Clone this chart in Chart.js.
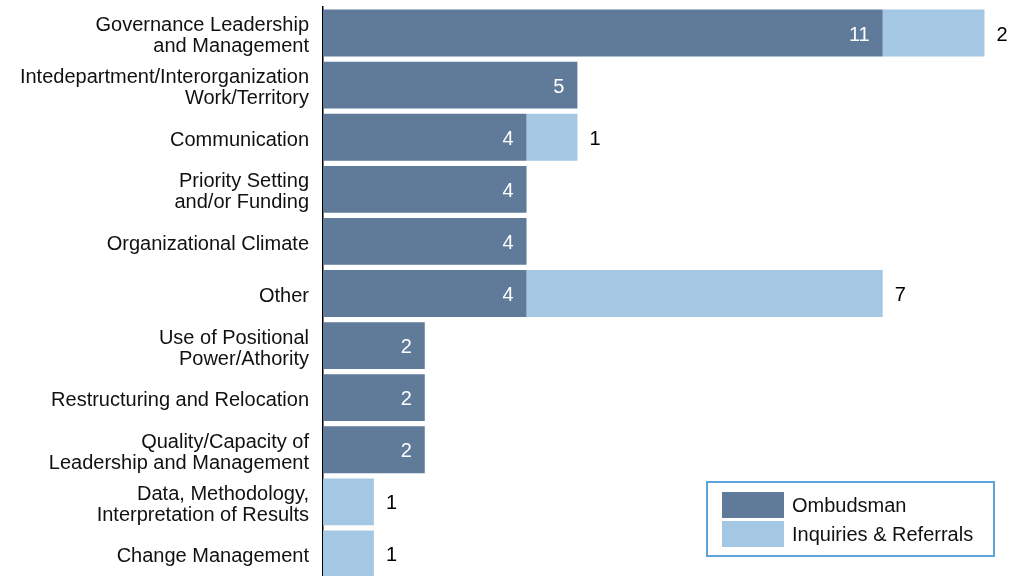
<!DOCTYPE html>
<html>
<head>
<meta charset="utf-8">
<script src="https://cdn.jsdelivr.net/npm/chart.js@4"></script>
<style>
  html, body { margin: 0; padding: 0; background: #fff; overflow: hidden; }
  #wrap { position: relative; width: 1015px; height: 580px; }
</style>
</head>
<body>
<div id="wrap"><canvas id="chart"></canvas></div>
<script>
// categories, top to bottom
const categories = [
    ['Governance Leadership', 'and Management'],
    ['Intedepartment/Interorganization', 'Work/Territory'],
    'Communication',
    ['Priority Setting', 'and/or Funding'],
    'Organizational Climate',
    'Other',
    ['Use of Positional', 'Power/Athority'],
    'Restructuring and Relocation',
    ['Quality/Capacity of', 'Leadership and Management'],
    ['Data, Methodology,', 'Interpretation of Results'],
    'Change Management'
];
const ombudsman = [11, 5, 4, 4, 4, 4, 2, 2, 2, 0, 0];
const inquiries = [2, 0, 1, 0, 0, 7, 0, 0, 0, 1, 1];
const seriesNames = ['Ombudsman', 'Inquiries & Referrals'];

const darkBlue = '#607a9a';
const lightBlue = '#a4c8e4';
const fontFamily = '"Liberation Sans", Arimo, Helvetica, Arial, sans-serif';

// nudge the category labels down a few px so they sit centred on the bars
const labelNudge = {
    id: 'labelNudge',
    beforeDraw(chart) {
        const yScale = chart.scales.y;
        if (yScale._nudged) return;
        const orig = yScale.drawLabels;
        yScale.drawLabels = function(area) {
            this.ctx.save();
            this.ctx.translate(0, 3);
            orig.call(this, area);
            this.ctx.restore();
        };
        yScale._nudged = true;
    }
};

// value labels: white inside the dark bar, black after the light bar
const valueLabels = {
    id: 'valueLabels',
    afterDatasetsDraw(chart) {
        const ctx = chart.ctx;
        ctx.save();
        ctx.font = '20px ' + fontFamily;
        ctx.textBaseline = 'middle';
        chart.getDatasetMeta(0).data.forEach(function(bar, i) {
            if (!ombudsman[i]) return;
            ctx.fillStyle = '#ffffff';
            ctx.textAlign = 'right';
            ctx.fillText(ombudsman[i], bar.x - 13, bar.y + 2);
        });
        chart.getDatasetMeta(1).data.forEach(function(bar, i) {
            if (!inquiries[i]) return;
            ctx.fillStyle = '#000000';
            ctx.textAlign = 'left';
            ctx.fillText(inquiries[i], bar.x + 12, bar.y + 2);
        });
        ctx.restore();
    }
};

// boxed legend in the lower right
const boxLegend = {
    id: 'boxLegend',
    afterDraw(chart) {
        const ctx = chart.ctx;
        const colors = [darkBlue, lightBlue];
        ctx.save();
        ctx.strokeStyle = '#5ba3d9';
        ctx.lineWidth = 2;
        ctx.strokeRect(707, 482, 287, 74);
        ctx.font = '20px ' + fontFamily;
        ctx.textBaseline = 'middle';
        ctx.textAlign = 'left';
        seriesNames.forEach(function(name, i) {
            const y = 492 + i * 29;
            ctx.fillStyle = colors[i];
            ctx.fillRect(722, y, 62, 26);
            ctx.fillStyle = '#111111';
            ctx.fillText(name, 792, y + 14);
        });
        ctx.restore();
    }
};

new Chart(document.getElementById('chart'), {
    type: 'bar',
    data: {
        labels: categories,
        datasets: [
            { label: seriesNames[0], data: ombudsman, backgroundColor: darkBlue, borderWidth: 0 },
            { label: seriesNames[1], data: inquiries, backgroundColor: lightBlue, borderWidth: 0 }
        ]
    },
    options: {
        indexAxis: 'y',
        responsive: true,
        maintainAspectRatio: false,
        animation: false,
        layout: { padding: { top: 7, right: 0, bottom: 0, left: 0 } },
        datasets: { bar: { categoryPercentage: 1, barPercentage: 0.9 } },
        scales: {
            x: {
                stacked: true,
                min: 0,
                max: 13.6,
                display: false
            },
            y: {
                stacked: true,
                afterFit: function(scale) {
                    scale.width = 323;
                    scale.paddingTop = 0;
                    scale.paddingBottom = 0;
                },
                grid: { display: false, drawTicks: false },
                border: { display: true, color: '#000000', width: 1.5 },
                ticks: {
                    color: '#111111',
                    padding: 14,
                    font: { family: fontFamily, size: 20, lineHeight: 1.05 }
                }
            }
        },
        plugins: {
            legend: { display: false },
            tooltip: { enabled: false }
        }
    },
    plugins: [labelNudge, valueLabels, boxLegend]
});
</script>
</body>
</html>
